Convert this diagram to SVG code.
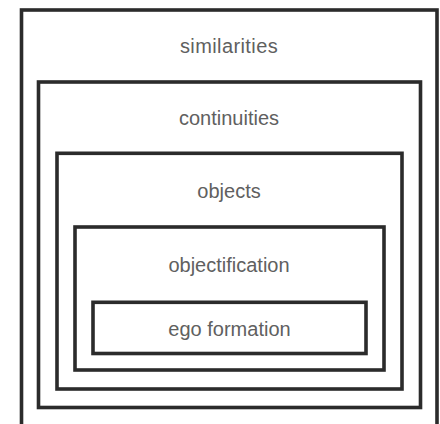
<svg xmlns="http://www.w3.org/2000/svg" width="440" height="424" viewBox="0 0 440 424">
  <style>
    .frame { fill: none; stroke: #2b2b2b; stroke-width: 3.6; }
    .label { font-family: "Liberation Sans", Arial, sans-serif; font-size: 20px; fill: #606060; text-anchor: middle; }
  </style>
  <rect width="440" height="424" fill="#ffffff"/>
  <!-- nested concentric frames, outermost first -->
  <g id="similarities">
    <rect class="frame" x="21.5" y="10" width="415.5" height="418"/>
    <text class="label" x="229" y="53" letter-spacing="0.4">similarities</text>
  </g>
  <g id="continuities">
    <rect class="frame" x="38.5" y="82" width="382" height="325.5"/>
    <text class="label" x="229" y="125">continuities</text>
  </g>
  <g id="objects">
    <rect class="frame" x="57" y="153.3" width="345" height="235.7"/>
    <text class="label" x="229" y="198">objects</text>
  </g>
  <g id="objectification">
    <rect class="frame" x="75" y="227" width="309" height="143"/>
    <text class="label" x="229" y="272">objectification</text>
  </g>
  <g id="ego-formation">
    <rect class="frame" x="93" y="302.3" width="273" height="51.2"/>
    <text class="label" x="229.5" y="336">ego formation</text>
  </g>
  <g id="connectors"/>
</svg>
